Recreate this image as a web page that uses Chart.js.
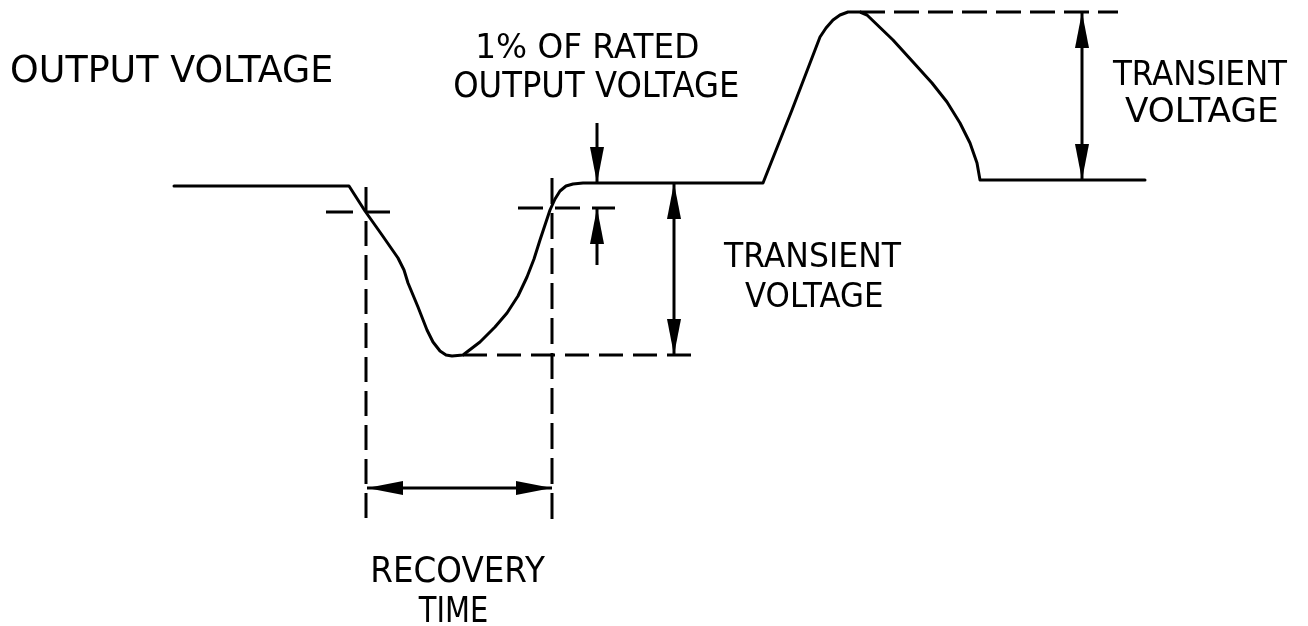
<!DOCTYPE html>
<html>
<head>
<meta charset="utf-8">
<script src="https://cdn.jsdelivr.net/npm/chart.js@4"></script>
<style>
html, body { margin: 0; padding: 0; background: #fff; }
#chart { display: block; }
</style>
</head>
<body>
<canvas id="chart" width="1308" height="626"></canvas>
<script>
// output voltage waveform (time to the right, voltage up)
var waveTime = [174, 349, 365, 382, 398, 404, 408, 418, 427, 433, 440, 446, 452, 463, 480,
  495, 507, 518, 527, 534, 540, 546, 550, 555, 560, 566, 573, 583, 763, 792,
  820, 826, 833, 840, 848, 860, 867, 893, 913, 932, 947, 960, 970, 977, 980, 1145];
var waveVolt = [440, 440, 415, 391, 368, 356, 343, 319, 296, 284, 275, 271, 270, 271, 284,
  299, 313, 330, 349, 367, 386, 404, 416, 427, 435, 440, 442, 443, 443, 516,
  589, 598, 606, 611, 614, 614, 611, 586, 564, 543, 524, 503, 483, 463, 446, 446];

// dashed guide lines: [t1, v1, t2, v2]
var guideLines = [
  [366, 439, 366, 104],
  [552, 448, 552, 104],
  [326, 414, 390, 414],
  [518, 418, 615, 418],
  [463, 271, 698, 271],
  [860, 614, 1118, 614]
];
var guideDash = [[25, 9], [26, 9], [27, 14], [25, 12], [24, 10], [25, 9]];

// dimension arrows: [t1, v1, t2, v2, arrowhead at both ends]
var dimArrows = [
  [674, 443, 674, 271, true],
  [1082, 614, 1082, 446, true],
  [367, 138, 552, 138, true],
  [597, 503, 597, 443, false],
  [597, 361, 597, 418, false]
];

// text labels and where they sit: [left t, right t, baseline v, cap height]
var labelTexts = ['OUTPUT VOLTAGE', '1% OF RATED', 'OUTPUT VOLTAGE', 'TRANSIENT', 'VOLTAGE',
  'TRANSIENT', 'VOLTAGE', 'RECOVERY', 'TIME'];
var labelBoxes = [
  [12, 332, 544, 27],
  [478, 698, 568, 25],
  [455, 738, 529, 26],
  [723, 902, 359, 25],
  [745, 882, 319, 25],
  [1112, 1288, 541, 25],
  [1125, 1277, 504, 25],
  [373, 545, 44, 26],
  [418, 487, 4, 26]
];

function toPoints(xs, ys) {
  return xs.map(function (x, i) { return { x: x, y: ys[i] }; });
}

var datasets = [{
  data: toPoints(waveTime, waveVolt),
  showLine: true,
  borderColor: '#000',
  borderWidth: 3,
  borderJoinStyle: 'round',
  borderCapStyle: 'round',
  pointRadius: 0,
  tension: 0
}];

guideLines.forEach(function (g, i) {
  datasets.push({
    data: [{ x: g[0], y: g[1] }, { x: g[2], y: g[3] }],
    showLine: true,
    borderColor: '#000',
    borderWidth: 3,
    borderDash: guideDash[i],
    pointRadius: 0
  });
});

function arrowHead(ctx, tx, ty, fx, fy) {
  var ang = Math.atan2(ty - fy, tx - fx);
  var len = 36, half = 7;
  ctx.beginPath();
  ctx.moveTo(tx, ty);
  ctx.lineTo(tx - len * Math.cos(ang) + half * Math.sin(ang), ty - len * Math.sin(ang) - half * Math.cos(ang));
  ctx.lineTo(tx - len * Math.cos(ang) - half * Math.sin(ang), ty - len * Math.sin(ang) + half * Math.cos(ang));
  ctx.closePath();
  ctx.fill();
}

var drawingPlugin = {
  id: 'drawing',
  afterDatasetsDraw: function (chart) {
    var ctx = chart.ctx, sx = chart.scales.x, sy = chart.scales.y;
    ctx.save();
    ctx.strokeStyle = '#000';
    ctx.fillStyle = '#000';
    ctx.lineWidth = 3;
    dimArrows.forEach(function (a) {
      var x1 = sx.getPixelForValue(a[0]), y1 = sy.getPixelForValue(a[1]);
      var x2 = sx.getPixelForValue(a[2]), y2 = sy.getPixelForValue(a[3]);
      ctx.beginPath();
      ctx.moveTo(x1, y1);
      ctx.lineTo(x2, y2);
      ctx.stroke();
      arrowHead(ctx, x2, y2, x1, y1);
      if (a[4]) arrowHead(ctx, x1, y1, x2, y2);
    });

    labelTexts.forEach(function (txt, i) {
      var b = labelBoxes[i];
      var left = sx.getPixelForValue(b[0]), right = sx.getPixelForValue(b[1]);
      var base = sy.getPixelForValue(b[2]);
      var size = b[3] / 0.729;
      ctx.font = size.toFixed(1) + 'px "DejaVu Sans"';
      ctx.textBaseline = 'alphabetic';
      ctx.textAlign = 'left';
      var m = ctx.measureText(txt);
      var w = m.actualBoundingBoxLeft + m.actualBoundingBoxRight;
      var k = (right - left) / w;
      ctx.save();
      ctx.translate(left + m.actualBoundingBoxLeft * k, base);
      ctx.scale(k, 1);
      ctx.fillText(txt, 0, 0);
      ctx.restore();
    });
    ctx.restore();
  }
};

var ctx = document.getElementById('chart').getContext('2d');
var myChart = new Chart(ctx, {
  type: 'scatter',
  data: { datasets: datasets },
  options: {
    responsive: false,
    animation: false,
    devicePixelRatio: 1,
    layout: { padding: 0 },
    plugins: {
      legend: { display: false },
      tooltip: { enabled: false }
    },
    scales: {
      x: { type: 'linear', min: 0, max: 1308, display: false },
      y: { type: 'linear', min: 0, max: 626, display: false }
    }
  },
  plugins: [drawingPlugin]
});
</script>
</body>
</html>
